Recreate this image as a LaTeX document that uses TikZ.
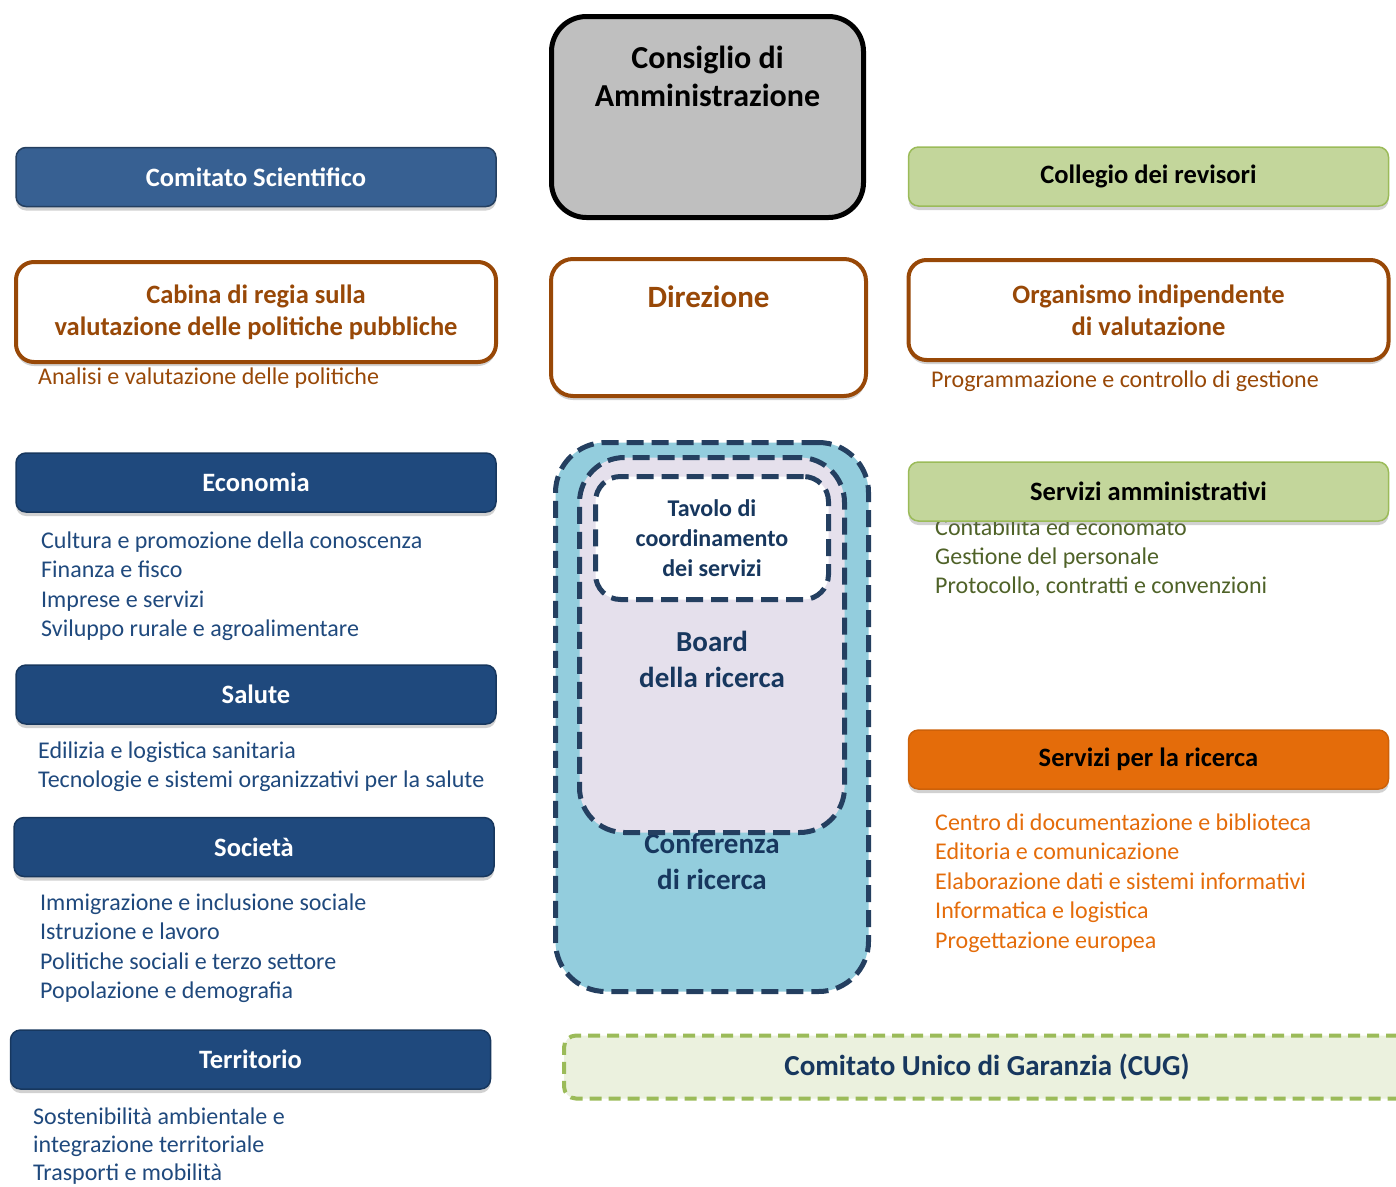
\documentclass[tikz,border=0pt]{standalone}
\usepackage{fontspec}
\setmainfont{Carlito}
\usetikzlibrary{positioning,shadows}

\definecolor{bluscuro}{HTML}{1F497D}
\definecolor{bluchiaro}{HTML}{376092}
\definecolor{blubordo}{HTML}{17375E}
\definecolor{marrone}{HTML}{984807}
\definecolor{verdechiaro}{HTML}{C3D69B}
\definecolor{verdebordo}{HTML}{9BBB59}
\definecolor{oliva}{HTML}{4F6228}
\definecolor{arancio}{HTML}{E46C0A}
\definecolor{azzurro}{HTML}{93CDDD}
\definecolor{lilla}{HTML}{E5E0EC}
\definecolor{navy}{HTML}{243F60}
\definecolor{verdetenue}{HTML}{EBF1DE}
\definecolor{grigio}{HTML}{BFBFBF}

\tikzset{
  ombra/.style={drop shadow={shadow xshift=0pt,shadow yshift=-4pt,opacity=.3,fill=black!60}},
  testata/.style={draw=blubordo,fill=bluscuro,line width=1.5pt,rounded corners=10pt,
    minimum width=480pt,minimum height=59pt,text=white,
    font=\fontsize{26.5}{32}\selectfont\bfseries,ombra},
  verdebox/.style={testata,draw=verdebordo,fill=verdechiaro,text=black},
  brunobox/.style={draw=marrone,fill=white,line width=4pt,rounded corners=18pt,
    minimum width=480pt,minimum height=100pt,text=marrone,align=center,
    font=\fontsize{26.5}{32}\selectfont\bfseries,ombra},
  tratteggio/.style={draw=navy,line width=5pt,dash pattern=on 17pt off 8pt},
  voce/.style={anchor=west,inner sep=0pt,text height=20pt,text depth=4pt,
    font=\fontsize{24}{29}\selectfont},
  titolo/.style={align=center,inner sep=0pt,font=\fontsize{29}{36}\selectfont\bfseries,text=blubordo}
}

\begin{document}
\begin{tikzpicture}[x=1pt,y=-1pt]
  \useasboundingbox (0,0) rectangle (1396,1186);

  % vertici
  \node[draw=black,fill=grigio,line width=5pt,rounded corners=35pt,
    minimum width=312pt,minimum height=201pt] (cda) at (707.5,117) {};
  \node[align=center,inner sep=0pt,font=\fontsize{32}{38}\selectfont\bfseries] (cdatxt) at (707.5,76) {Consiglio di\\Amministrazione};
  \node[brunobox,minimum width=315pt,minimum height=137pt,rounded corners=22pt] (dir) at (708.5,327.5) {};
  \node[inner sep=0pt,text=marrone,font=\fontsize{31}{36}\selectfont\bfseries] (dirtxt) at (708.5,297) {Direzione};

  % colonna sinistra
  \node[testata,fill=bluchiaro,draw=navy] (cs) at (256,177) {Comitato Scientifico};
  \node[brunobox] (cabina) at (256,312) {Cabina di regia sulla\\valutazione delle politiche pubbliche};
  \node[voce,text=marrone] (analisi) at (38,376) {Analisi e valutazione delle politiche};

  \node[testata] (eco) at (256,482.5) {Economia};
  \foreach \t [count=\i] in {Cultura e promozione della conoscenza,Finanza e fisco,Imprese e servizi,Sviluppo rurale e agroalimentare}
    \node[voce,text=bluscuro] (eco-\i) at (41,540+29.5*\i-29.5) {\t};

  \node[testata] (sal) at (256,694.5) {Salute};
  \foreach \t [count=\i] in {Edilizia e logistica sanitaria,Tecnologie e sistemi organizzativi per la salute}
    \node[voce,text=bluscuro] (sal-\i) at (38,750+29.5*\i-29.5) {\t};

  \node[testata] (soc) at (254,847) {Società};
  \foreach \t [count=\i] in {Immigrazione e inclusione sociale,Istruzione e lavoro,Politiche sociali e terzo settore,Popolazione e demografia}
    \node[voce,text=bluscuro] (soc-\i) at (40,902+29.5*\i-29.5) {\t};

  \node[testata] (ter) at (250.5,1059.5) {Territorio};
  \foreach \t [count=\i] in {Sostenibilità ambientale e,integrazione territoriale,Trasporti e mobilità}
    \node[voce,text=bluscuro] (ter-\i) at (33,1116+28*\i-28) {\t};

  % centro
  \node[tratteggio,fill=azzurro,rounded corners=50pt,minimum width=313pt,minimum height=549pt] (conf) at (712,717) {};
  \node[titolo] (conftxt) at (712,862) {Conferenza\\di ricerca};
  \node[tratteggio,fill=lilla,rounded corners=45pt,minimum width=265pt,minimum height=375pt] (board) at (712,645) {};
  \node[titolo] (boardtxt) at (712,659) {Board\\della ricerca};
  \node[tratteggio,fill=white,rounded corners=25pt,minimum width=233pt,minimum height=123pt,
    align=center,text=blubordo,font=\fontsize{24}{30}\selectfont\bfseries] (tavolo) at (712,538) {Tavolo di\\coordinamento\\dei servizi};

  % colonna destra
  \node[verdebox] (coll) at (1148.5,176.5) {Collegio dei revisori};
  \node[brunobox] (oiv) at (1148.5,310) {Organismo indipendente\\di valutazione};
  \node[voce,text=marrone] (progr) at (931,379) {Programmazione e controllo di gestione};

  \foreach \t [count=\i] in {Contabilità ed economato,Gestione del personale,{Protocollo, contratti e convenzioni}}
    \node[voce,text=oliva] (amm-\i) at (935,527+29*\i-29) {\t};
  \node[verdebox] (amm) at (1148.5,491.5) {Servizi amministrativi};

  \node[testata,fill=arancio,draw=arancio!90!black,text=black] (ric) at (1148.5,759.5) {Servizi per la ricerca};
  \foreach \t [count=\i] in {Centro di documentazione e biblioteca,Editoria e comunicazione,Elaborazione dati e sistemi informativi,Informatica e logistica,Progettazione europea}
    \node[voce,text=arancio] (ric-\i) at (935,822+29.5*\i-29.5) {\t};

  \node[draw=verdebordo,fill=verdetenue,line width=4pt,dash pattern=on 12pt off 7pt,rounded corners=12pt,
    minimum width=846pt,minimum height=63pt,text=blubordo,font=\fontsize{29}{34}\selectfont\bfseries] (cug) at (987,1067) {Comitato Unico di Garanzia (CUG)};
\end{tikzpicture}
\end{document}
